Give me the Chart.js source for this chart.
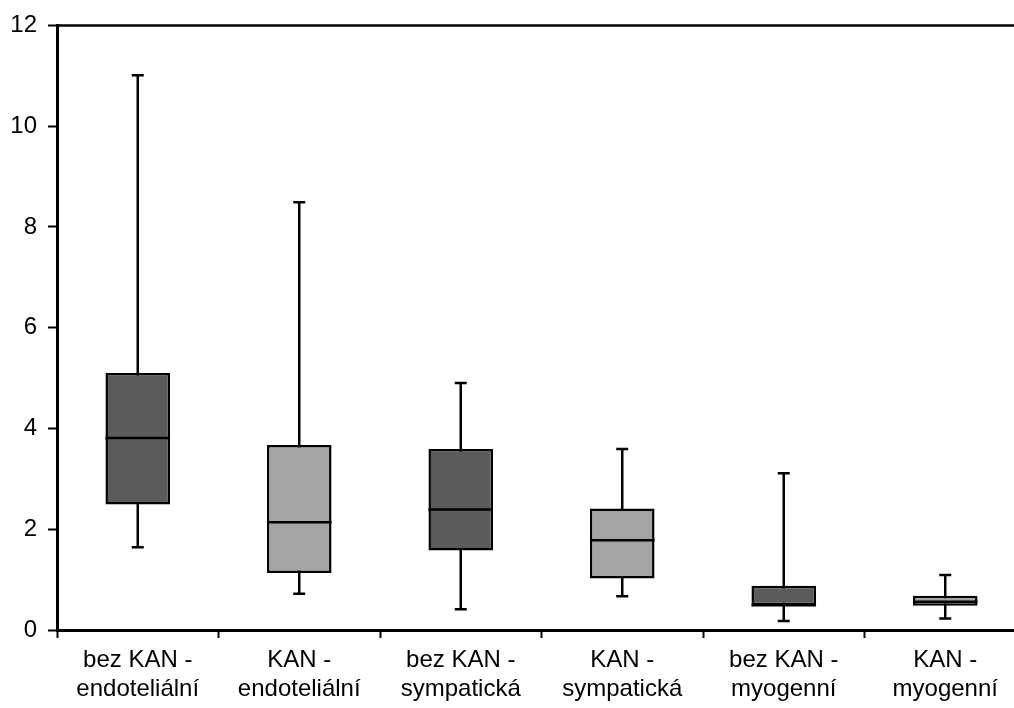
<!DOCTYPE html>
<html>
<head>
<meta charset="utf-8">
<script src="https://cdn.jsdelivr.net/npm/chart.js@4.4.1/dist/chart.umd.min.js"></script>
<style>
    html, body { margin: 0; padding: 0; background: #fff; overflow: hidden; }
    .chart-container { position: absolute; left: 0; top: 0; width: 1026px; height: 708px; }
</style>
</head>
<body>
<div class="chart-container"><canvas id="chart"></canvas></div>
<script>
const categories = [
    ['bez KAN -', 'endoteliální'],
    ['KAN -', 'endoteliální'],
    ['bez KAN -', 'sympatická'],
    ['KAN -', 'sympatická'],
    ['bez KAN -', 'myogenní'],
    ['KAN -', 'myogenní']
];
const whiskerLow = [1.64, 0.72, 0.41, 0.67, 0.18, 0.23];
const boxLow = [2.49, 1.13, 1.58, 1.02, 0.49, 0.48];
const medians = [3.81, 2.14, 2.39, 1.78, 0.49, 0.56];
const boxHigh = [5.10, 3.67, 3.59, 2.41, 0.88, 0.68];
const whiskerHigh = [11.01, 8.49, 4.90, 3.59, 3.11, 1.09];
const boxColors = ['#5b5b5b', '#a4a4a4', '#5b5b5b', '#a4a4a4', '#5b5b5b', '#a4a4a4'];

const FONT = { family: 'Arial, "Liberation Sans", sans-serif', size: 24 };

const boxPlot = {
    id: 'boxPlot',
    beforeDatasetsDraw(chart) {
        const { ctx, scales: { x, y }, chartArea } = chart;
        ctx.save();
        ctx.strokeStyle = '#000';
        ctx.lineWidth = 2.5;
        whiskerLow.forEach((lo, i) => {
            const cx = x.getPixelForValue(i);
            const yLo = y.getPixelForValue(lo);
            const yHi = y.getPixelForValue(whiskerHigh[i]);
            ctx.beginPath();
            ctx.moveTo(cx, yLo);
            ctx.lineTo(cx, yHi);
            ctx.moveTo(cx - 6, yLo);
            ctx.lineTo(cx + 6, yLo);
            ctx.moveTo(cx - 6, yHi);
            ctx.lineTo(cx + 6, yHi);
            ctx.stroke();
        });
        // top frame line
        ctx.beginPath();
        ctx.moveTo(chartArea.left, chartArea.top);
        ctx.lineTo(chartArea.right + 20, chartArea.top);
        ctx.stroke();
        ctx.restore();
    },
    afterDatasetsDraw(chart) {
        const { ctx, scales: { y } } = chart;
        const bars = chart.getDatasetMeta(0).data;
        ctx.save();
        ctx.strokeStyle = '#000';
        ctx.lineWidth = 2.5;
        medians.forEach((m, i) => {
            const bar = bars[i];
            const ym = y.getPixelForValue(m);
            ctx.beginPath();
            ctx.moveTo(bar.x - bar.width / 2, ym);
            ctx.lineTo(bar.x + bar.width / 2, ym);
            ctx.stroke();
        });
        ctx.restore();
    }
};

const ctx = document.getElementById('chart').getContext('2d');
new Chart(ctx, {
    type: 'bar',
    data: {
        labels: categories,
        datasets: [{
            data: boxLow.map((lo, i) => [lo, boxHigh[i]]),
            backgroundColor: boxColors,
            borderColor: '#000',
            borderWidth: 2.5,
            borderSkipped: false,
            barPercentage: 0.4,
            categoryPercentage: 1
        }]
    },
    options: {
        responsive: true,
        maintainAspectRatio: false,
        animation: false,
        layout: { padding: { top: 23, left: 0, right: 0, bottom: 0 } },
        scales: {
            y: {
                min: 0,
                max: 12,
                ticks: { stepSize: 2, color: '#000', font: FONT, padding: 11 },
                grid: { display: true, drawOnChartArea: false, drawTicks: true, tickLength: 9, tickColor: '#000', tickWidth: 2 },
                border: { display: true, color: '#000', width: 3 },
                afterFit: axis => { axis.width = 57; }
            },
            x: {
                ticks: { color: '#000', font: FONT, padding: 8, maxRotation: 0, autoSkip: false },
                grid: { display: true, offset: true, drawOnChartArea: false, drawTicks: true, tickLength: 8, tickColor: '#000', tickWidth: 2 },
                border: { display: true, color: '#000', width: 3 },
                afterFit: axis => { axis.height = 78; }
            }
        },
        plugins: {
            legend: { display: false },
            tooltip: { enabled: false },
            title: { display: false }
        }
    },
    plugins: [boxPlot]
});
</script>
</body>
</html>
